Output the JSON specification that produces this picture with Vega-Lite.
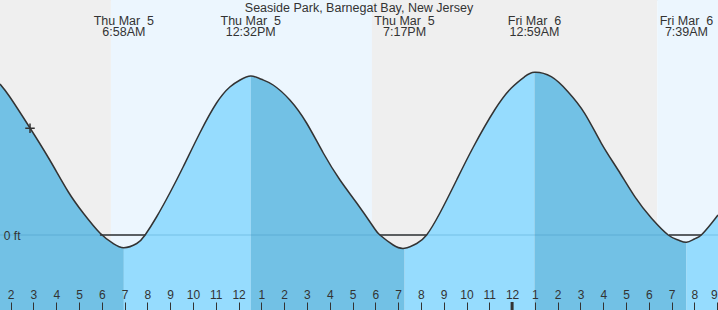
{
  "$schema": "https://vega.github.io/schema/vega-lite/v6.json",
  "width": 718,
  "height": 310,
  "padding": 0,
  "autosize": {"type": "none"},
  "background": "#ffffff",
  "config": {"font": "Liberation Sans"},
  "title": {"text": "Seaside Park, Barnegat Bay, New Jersey", "frame": "group", "offset": -24, "baseline": "alphabetic", "fontSize": 12.5, "fontWeight": "normal", "color": "#333333", "anchor": "middle"},
  "data": {"values": [
    {"k": "sun", "t": "2026-03-05T01:32", "t2": "2026-03-05T06:24", "c": "night"},
    {"k": "sun", "t": "2026-03-05T06:24", "t2": "2026-03-05T17:51", "c": "day"},
    {"k": "sun", "t": "2026-03-05T17:51", "t2": "2026-03-06T06:22", "c": "night"},
    {"k": "sun", "t": "2026-03-06T06:22", "t2": "2026-03-06T09:02", "c": "day"},
    {"k": "tide", "t": "2026-03-05T01:32", "ft": 1.51, "seg": "a", "c": "falling", "dup": 0},
    {"k": "tide", "t": "2026-03-05T01:58", "ft": 1.38, "seg": "a", "c": "falling", "dup": 0},
    {"k": "tide", "t": "2026-03-05T02:51", "ft": 1.07, "seg": "a", "c": "falling", "dup": 0},
    {"k": "tide", "t": "2026-03-05T03:43", "ft": 0.75, "seg": "a", "c": "falling", "dup": 0},
    {"k": "tide", "t": "2026-03-05T04:32", "ft": 0.43, "seg": "a", "c": "falling", "dup": 0},
    {"k": "tide", "t": "2026-03-05T05:11", "ft": 0.22, "seg": "a", "c": "falling", "dup": 0},
    {"k": "tide", "t": "2026-03-05T05:55", "ft": 0.02, "seg": "a", "c": "falling", "dup": 0},
    {"k": "tide", "t": "2026-03-05T06:30", "ft": -0.085, "seg": "a", "c": "falling", "dup": 0},
    {"k": "tide", "t": "2026-03-05T06:58", "ft": -0.127, "seg": "a", "c": "falling", "dup": 0},
    {"k": "tide", "t": "2026-03-05T06:58", "ft": -0.127, "seg": "b", "c": "rising", "dup": 1},
    {"k": "tide", "t": "2026-03-05T07:32", "ft": -0.085, "seg": "b", "c": "rising", "dup": 0},
    {"k": "tide", "t": "2026-03-05T07:54", "ft": 0.0, "seg": "b", "c": "rising", "dup": 0},
    {"k": "tide", "t": "2026-03-05T08:24", "ft": 0.18, "seg": "b", "c": "rising", "dup": 0},
    {"k": "tide", "t": "2026-03-05T08:59", "ft": 0.42, "seg": "b", "c": "rising", "dup": 0},
    {"k": "tide", "t": "2026-03-05T09:34", "ft": 0.68, "seg": "b", "c": "rising", "dup": 0},
    {"k": "tide", "t": "2026-03-05T10:18", "ft": 1.02, "seg": "b", "c": "rising", "dup": 0},
    {"k": "tide", "t": "2026-03-05T11:02", "ft": 1.32, "seg": "b", "c": "rising", "dup": 0},
    {"k": "tide", "t": "2026-03-05T11:37", "ft": 1.48, "seg": "b", "c": "rising", "dup": 0},
    {"k": "tide", "t": "2026-03-05T12:04", "ft": 1.55, "seg": "b", "c": "rising", "dup": 0},
    {"k": "tide", "t": "2026-03-05T12:32", "ft": 1.59, "seg": "b", "c": "rising", "dup": 0},
    {"k": "tide", "t": "2026-03-05T12:32", "ft": 1.59, "seg": "c", "c": "falling", "dup": 1},
    {"k": "tide", "t": "2026-03-05T13:00", "ft": 1.557, "seg": "c", "c": "falling", "dup": 0},
    {"k": "tide", "t": "2026-03-05T13:31", "ft": 1.50, "seg": "c", "c": "falling", "dup": 0},
    {"k": "tide", "t": "2026-03-05T14:15", "ft": 1.35, "seg": "c", "c": "falling", "dup": 0},
    {"k": "tide", "t": "2026-03-05T14:59", "ft": 1.12, "seg": "c", "c": "falling", "dup": 0},
    {"k": "tide", "t": "2026-03-05T15:43", "ft": 0.82, "seg": "c", "c": "falling", "dup": 0},
    {"k": "tide", "t": "2026-03-05T16:27", "ft": 0.55, "seg": "c", "c": "falling", "dup": 0},
    {"k": "tide", "t": "2026-03-05T17:11", "ft": 0.32, "seg": "c", "c": "falling", "dup": 0},
    {"k": "tide", "t": "2026-03-05T17:55", "ft": 0.08, "seg": "c", "c": "falling", "dup": 0},
    {"k": "tide", "t": "2026-03-05T18:12", "ft": 0.0, "seg": "c", "c": "falling", "dup": 0},
    {"k": "tide", "t": "2026-03-05T18:47", "ft": -0.10, "seg": "c", "c": "falling", "dup": 0},
    {"k": "tide", "t": "2026-03-05T19:17", "ft": -0.133, "seg": "c", "c": "falling", "dup": 0},
    {"k": "tide", "t": "2026-03-05T19:17", "ft": -0.133, "seg": "d", "c": "rising", "dup": 1},
    {"k": "tide", "t": "2026-03-05T19:49", "ft": -0.085, "seg": "d", "c": "rising", "dup": 0},
    {"k": "tide", "t": "2026-03-05T20:15", "ft": 0.0, "seg": "d", "c": "rising", "dup": 0},
    {"k": "tide", "t": "2026-03-05T20:50", "ft": 0.22, "seg": "d", "c": "rising", "dup": 0},
    {"k": "tide", "t": "2026-03-05T21:34", "ft": 0.55, "seg": "d", "c": "rising", "dup": 0},
    {"k": "tide", "t": "2026-03-05T22:18", "ft": 0.88, "seg": "d", "c": "rising", "dup": 0},
    {"k": "tide", "t": "2026-03-05T23:14", "ft": 1.25, "seg": "d", "c": "rising", "dup": 0},
    {"k": "tide", "t": "2026-03-05T23:58", "ft": 1.47, "seg": "d", "c": "rising", "dup": 0},
    {"k": "tide", "t": "2026-03-06T00:33", "ft": 1.583, "seg": "d", "c": "rising", "dup": 0},
    {"k": "tide", "t": "2026-03-06T00:59", "ft": 1.627, "seg": "d", "c": "rising", "dup": 0},
    {"k": "tide", "t": "2026-03-06T00:59", "ft": 1.627, "seg": "e", "c": "falling", "dup": 1},
    {"k": "tide", "t": "2026-03-06T01:43", "ft": 1.583, "seg": "e", "c": "falling", "dup": 0},
    {"k": "tide", "t": "2026-03-06T02:27", "ft": 1.433, "seg": "e", "c": "falling", "dup": 0},
    {"k": "tide", "t": "2026-03-06T03:11", "ft": 1.217, "seg": "e", "c": "falling", "dup": 0},
    {"k": "tide", "t": "2026-03-06T03:55", "ft": 0.917, "seg": "e", "c": "falling", "dup": 0},
    {"k": "tide", "t": "2026-03-06T04:39", "ft": 0.65, "seg": "e", "c": "falling", "dup": 0},
    {"k": "tide", "t": "2026-03-06T05:23", "ft": 0.383, "seg": "e", "c": "falling", "dup": 0},
    {"k": "tide", "t": "2026-03-06T06:07", "ft": 0.167, "seg": "e", "c": "falling", "dup": 0},
    {"k": "tide", "t": "2026-03-06T06:51", "ft": 0.0, "seg": "e", "c": "falling", "dup": 0},
    {"k": "tide", "t": "2026-03-06T07:17", "ft": -0.05, "seg": "e", "c": "falling", "dup": 0},
    {"k": "tide", "t": "2026-03-06T07:39", "ft": -0.073, "seg": "e", "c": "falling", "dup": 0},
    {"k": "tide", "t": "2026-03-06T07:39", "ft": -0.073, "seg": "f", "c": "rising", "dup": 1},
    {"k": "tide", "t": "2026-03-06T08:00", "ft": -0.04, "seg": "f", "c": "rising", "dup": 0},
    {"k": "tide", "t": "2026-03-06T08:18", "ft": 0.0, "seg": "f", "c": "rising", "dup": 0},
    {"k": "tide", "t": "2026-03-06T08:45", "ft": 0.117, "seg": "f", "c": "rising", "dup": 0},
    {"k": "tide", "t": "2026-03-06T09:02", "ft": 0.20, "seg": "f", "c": "rising", "dup": 0},
    {"k": "dry", "t": "2026-03-05T05:55", "t2": "2026-03-05T07:54", "ft": 0},
    {"k": "dry", "t": "2026-03-05T18:12", "t2": "2026-03-05T20:15", "ft": 0},
    {"k": "dry", "t": "2026-03-06T06:53", "t2": "2026-03-06T08:18", "ft": 0},
    {"k": "cur", "t": "2026-03-05T02:51", "ft": 1.067},
    {"k": "mid", "t": "2026-03-06T00:00"},
    {"k": "ext", "t": "2026-03-05T06:58", "l": "Thu Mar \u00a05\n6:58AM"},
    {"k": "ext", "t": "2026-03-05T12:32", "l": "Thu Mar \u00a05\n12:32PM"},
    {"k": "ext", "t": "2026-03-05T19:17", "l": "Thu Mar \u00a05\n7:17PM"},
    {"k": "ext", "t": "2026-03-06T00:59", "l": "Fri Mar \u00a06\n12:59AM"},
    {"k": "ext", "t": "2026-03-06T07:39", "l": "Fri Mar \u00a06\n7:39AM"}
  ]},
  "layer": [
    {
      "transform": [{"filter": "datum.k == 'sun'"}],
      "mark": {"type": "rect"},
      "encoding": {
        "x": {
          "field": "t", "type": "temporal",
          "scale": {"nice": false},
          "axis": {
            "orient": "top", "offset": -310, "title": null, "domain": false, "grid": false,
            "format": "%-I", "tickCount": 31, "zindex": 1,
            "tickSize": 8, "tickColor": "#333333",
            "labelPadding": 1, "labelFontSize": 12, "labelColor": "#333333"
          }
        },
        "x2": {"field": "t2"},
        "color": {"field": "c", "type": "nominal", "scale": {"domain": ["night", "day", "falling", "rising"], "range": ["#efefef", "#ecf6fe", "#72c1e5", "#96dcfe"]}, "legend": null}
      }
    },
    {
      "transform": [{"filter": "datum.k == 'tide'"}],
      "mark": {"type": "area", "interpolate": "natural"},
      "encoding": {
        "x": {"field": "t", "type": "temporal"},
        "y": {
          "field": "ft", "type": "quantitative",
          "scale": {"domain": [-0.75, 2.35], "nice": false, "zero": false},
          "axis": {"orient": "left", "offset": -22, "values": [0], "labelExpr": "datum.value + ' ft'", "ticks": false, "domain": false, "grid": false, "title": null, "zindex": 1, "labelPadding": 2, "labelFontSize": 12, "labelColor": "#333333"}
        },
        "y2": {"datum": -0.75},
        "detail": {"field": "seg"},
        "color": {"field": "c", "type": "nominal"}
      }
    },
    {
      "transform": [{"filter": "datum.k == 'cur'"}],
      "mark": {"type": "rule", "color": "#2a7fb0", "opacity": 0.3, "strokeWidth": 1},
      "encoding": {"y": {"datum": 0}}
    },
    {
      "transform": [{"filter": "datum.k == 'dry'"}],
      "mark": {"type": "rule", "color": "#333333", "strokeWidth": 1.5},
      "encoding": {
        "x": {"field": "t", "type": "temporal"},
        "x2": {"field": "t2"},
        "y": {"field": "ft", "type": "quantitative"}
      }
    },
    {
      "transform": [{"filter": "datum.k == 'tide' && datum.dup == 0"}],
      "mark": {"type": "line", "interpolate": "natural", "color": "#333333", "strokeWidth": 1.5},
      "encoding": {
        "x": {"field": "t", "type": "temporal"},
        "y": {"field": "ft", "type": "quantitative"}
      }
    },
    {
      "transform": [{"filter": "datum.k == 'cur'"}],
      "mark": {"type": "point", "shape": "M-1,0H1M0,-1V1", "filled": false, "stroke": "#333333", "strokeWidth": 1.5, "size": 90, "opacity": 1},
      "encoding": {
        "x": {"field": "t", "type": "temporal"},
        "y": {"field": "ft", "type": "quantitative"}
      }
    },
    {
      "transform": [{"filter": "datum.k == 'mid'"}],
      "mark": {"type": "rule", "color": "#333333", "strokeWidth": 3},
      "encoding": {
        "x": {"field": "t", "type": "temporal"},
        "y": {"datum": -0.67},
        "y2": {"datum": -0.75}
      }
    },
    {
      "transform": [{"filter": "datum.k == 'ext'"}],
      "mark": {"type": "text", "align": "center", "baseline": "alphabetic", "lineBreak": "\n", "lineHeight": 11, "fontSize": 12.5, "color": "#333333"},
      "encoding": {
        "x": {"field": "t", "type": "temporal"},
        "y": {"datum": 2.10},
        "text": {"field": "l"}
      }
    }
  ]
}
